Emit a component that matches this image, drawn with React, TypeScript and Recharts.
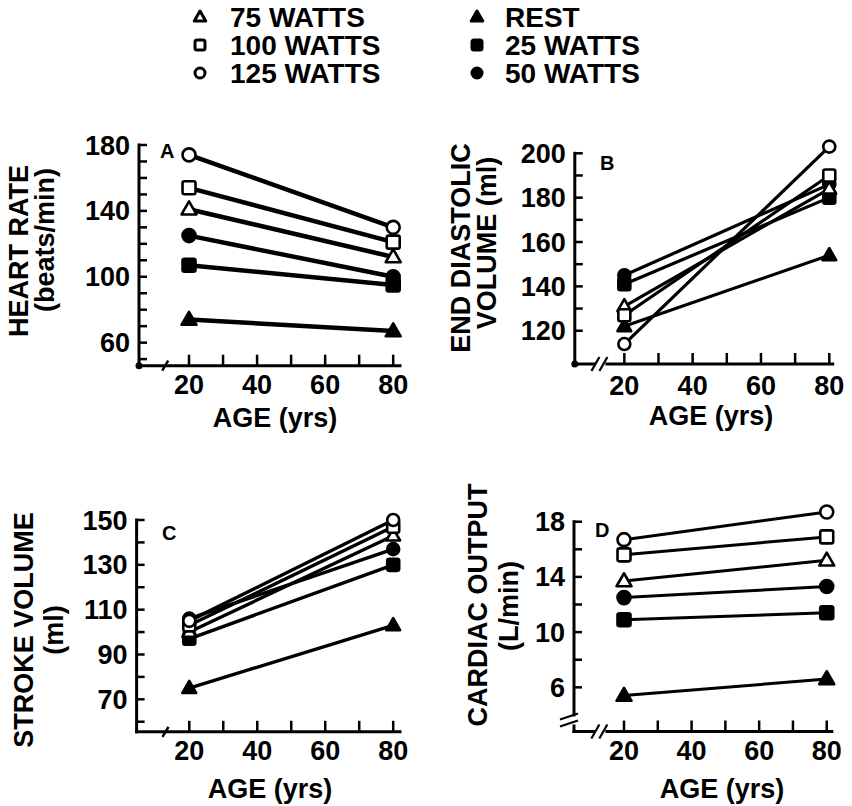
import React from "react";
import { LineChart, Line, XAxis, YAxis, ReferenceDot, ReferenceLine } from "recharts";

// ages at which every group was measured
const AGES = [20, 80];

const SERIES_KEYS = ["rest", "w25", "w50", "w75", "w100", "w125"];
const SERIES_NAMES = ["REST", "25 WATTS", "50 WATTS", "75 WATTS", "100 WATTS", "125 WATTS"];

// [value at 20 yrs, value at 80 yrs], one pair per series in SERIES_KEYS order
const heartRate = [[74, 67], [107, 95], [125, 100], [141, 112], [154, 121], [174, 130]];
const endDiastolicVolume = [[122, 154], [141, 180], [145, 186], [131, 184], [127, 190], [114, 203]];
const strokeVolume = [[75, 103], [97, 130], [106, 137], [100, 143], [103, 147], [105, 150]];
const cardiacOutput = [[5.4, 6.6], [10.9, 11.4], [12.5, 13.3], [13.7, 15.2], [15.6, 16.9], [16.7, 18.7]];

const AGE_TICKS = [20, 30, 40, 50, 60, 70, 80];
const AGE_LABELS = [20, 40, 60, 80];
const HR_TICKS = [50, 60, 70, 80, 90, 100, 110, 120, 130, 140, 150, 160, 170, 180];
const HR_LABELS = [60, 100, 140, 180];
const EDV_TICKS = [120, 130, 140, 150, 160, 170, 180, 190, 200];
const EDV_LABELS = [120, 140, 160, 180, 200];
const SV_TICKS = [60, 70, 80, 90, 100, 110, 120, 130, 140, 150];
const SV_LABELS = [70, 90, 110, 130, 150];
const CO_TICKS = [6, 8, 10, 12, 14, 16, 18];
const CO_LABELS = [6, 10, 14, 18];

const FONT = "'Liberation Sans', Arial, Helvetica, sans-serif";
const INK = "#000";

type Shape = "triangle" | "square" | "circle";
const MARKER_SHAPE: Record<string, Shape> = {
  rest: "triangle", w25: "square", w50: "circle",
  w75: "triangle", w100: "square", w125: "circle",
};
const MARKER_FILLED: Record<string, boolean> = {
  rest: true, w25: true, w50: true, w75: false, w100: false, w125: false,
};

function Marker({ cx, cy, shape, filled, size, sw = 2.6 }: { cx: number; cy: number; shape: Shape; filled: boolean; size: number; sw?: number }) {
  const fill = filled ? INK : "#fff";
  if (shape === "circle") {
    return <circle cx={cx} cy={cy} r={size} fill={fill} stroke={INK} strokeWidth={sw} />;
  }
  if (shape === "square") {
    return (
      <rect x={cx - size} y={cy - size} width={size * 2} height={size * 2} rx={2}
        fill={fill} stroke={INK} strokeWidth={sw} />
    );
  }
  const pts = `${cx},${cy - size * 1.2} ${cx + size * 1.15},${cy + size * 0.8} ${cx - size * 1.15},${cy + size * 0.8}`;
  return <polygon points={pts} fill={fill} stroke={INK} strokeWidth={sw} strokeLinejoin="round" />;
}

function buildRows(values: number[][]) {
  return AGES.map((age, i) => {
    const row: Record<string, number> = { age };
    SERIES_KEYS.forEach((k, s) => {
      row[k] = values[s][i];
    });
    return row;
  });
}

type TitleLine = { text: string; x: number; y: number };

type PanelProps = {
  values: number[][];
  box: [number, number, number, number]; // left, top, width, height
  plot: [number, number, number, number]; // left, top, right, bottom
  xDomain: [number, number];
  yDomain: [number, number];
  yAxisTop: number; // value where the drawn y axis line stops
  yTicks: number[];
  yLabels: number[];
  letter: string;
  letterPos: [number, number];
  yTitle: TitleLine[];
  xTitle: TitleLine;
  xLabelGap: number;
  lineWidth: number;
  markerSize: number;
  breakStyle: "single" | "double";
  yBreakAt?: number;
  originDot?: boolean;
};

function Panel(p: PanelProps) {
  const [bx, by, bw, bh] = p.box;
  const [pl, pt, pr, pb] = p.plot;
  const rows = buildRows(p.values);

  const xTick = (props: any) => {
    const { x, y, payload } = props;
    const v = payload.value;
    return (
      <g>
        <line x1={x} x2={x} y1={y} y2={y - 11} stroke={INK} strokeWidth={2.5} />
        {AGE_LABELS.includes(v) && (
          <text x={x} y={y + p.xLabelGap} textAnchor="middle" fontFamily={FONT}
            fontWeight="bold" fontSize={27} fill={INK}>{v}</text>
        )}
      </g>
    );
  };

  const yTick = (props: any) => {
    const { x, y, payload } = props;
    const v = payload.value;
    return (
      <g>
        <line x1={x} x2={x + 8} y1={y} y2={y} stroke={INK} strokeWidth={2.5} />
        {p.yLabels.includes(v) && (
          <text x={x - 9} y={y + 9.5} textAnchor="end" fontFamily={FONT}
            fontWeight="bold" fontSize={27} fill={INK}>{v}</text>
        )}
      </g>
    );
  };

  const xTitle = () => (
    <text x={p.xTitle.x - bx} y={p.xTitle.y - by} textAnchor="middle" fontFamily={FONT}
      fontWeight="bold" fontSize={27} fill={INK}>{p.xTitle.text}</text>
  );

  const yTitle = () => (
    <g>
      {p.yTitle.map((t) => (
        <text key={t.text} x={t.x - bx} y={t.y - by} textAnchor="middle" fontFamily={FONT}
          fontWeight="bold" fontSize={27} fill={INK}
          transform={`rotate(-90 ${t.x - bx} ${t.y - by})`}>{t.text}</text>
      ))}
      <text x={p.letterPos[0] - bx} y={p.letterPos[1] - by} fontFamily={FONT}
        fontWeight="bold" fontSize={20} fill={INK}>{p.letter}</text>
    </g>
  );

  const axisBreak = (props: any) => {
    const { cx, cy } = props;
    if (p.breakStyle === "single") {
      return (
        <g>
          <line x1={cx - 3} x2={cx + 3} y1={cy + 5} y2={cy - 5} stroke={INK} strokeWidth={2.5} />
        </g>
      );
    }
    return (
      <g>
        <rect x={cx - 5} y={cy - 4} width={10} height={8} fill="#fff" />
        <line x1={cx - 9} x2={cx - 1} y1={cy + 7} y2={cy - 7} stroke={INK} strokeWidth={2.2} />
        <line x1={cx - 1} x2={cx + 7} y1={cy + 7} y2={cy - 7} stroke={INK} strokeWidth={2.2} />
      </g>
    );
  };

  const yBreak = (props: any) => {
    const { cx, cy } = props;
    return (
      <g>
        <rect x={cx - 3} y={cy - 4} width={6} height={8} fill="#fff" />
        <line x1={cx - 14} x2={cx + 4} y1={cy - 1} y2={cy - 7} stroke={INK} strokeWidth={2.2} />
        <line x1={cx - 14} x2={cx + 4} y1={cy + 6} y2={cy} stroke={INK} strokeWidth={2.2} />
      </g>
    );
  };

  const origin = (props: any) => <circle cx={props.cx} cy={props.cy} r={3.5} fill={INK} />;

  const axisLine = { stroke: INK, strokeWidth: 3, strokeLinecap: "square" as const };

  return (
    <div style={{ position: "absolute", left: bx, top: by }}>
      <LineChart width={bw} height={bh} data={rows}
        margin={{ top: pt - by, right: bx + bw - pr, bottom: 0, left: 0 }}>
        <XAxis dataKey="age" type="number" domain={p.xDomain} ticks={AGE_TICKS} interval={0}
          height={by + bh - pb} tickSize={0} tickMargin={0} tickLine={false}
          tick={xTick} axisLine={axisLine} label={xTitle} />
        <YAxis type="number" domain={p.yDomain} ticks={p.yTicks} interval={0}
          width={pl - bx} tickSize={0} tickMargin={0} tickLine={false}
          tick={yTick} axisLine={false} label={yTitle} />
        {/* y axis line stops at the top tick, below the headroom kept for high points */}
        <ReferenceLine
          segment={[{ x: p.xDomain[0], y: p.yDomain[0] }, { x: p.xDomain[0], y: p.yAxisTop }]}
          stroke={INK} strokeWidth={3} strokeLinecap="square" ifOverflow="visible" />
        {SERIES_KEYS.map((k, s) => (
          <Line key={k} dataKey={k} name={SERIES_NAMES[s]} stroke={INK} strokeWidth={p.lineWidth}
            isAnimationActive={false} activeDot={false}
            dot={(d: any) => (
              <Marker key={`${k}-${d.index}`} cx={d.cx} cy={d.cy} shape={MARKER_SHAPE[k]}
                filled={MARKER_FILLED[k]} size={p.markerSize} />
            )} />
        ))}
        <ReferenceDot x={13} y={p.yDomain[0]} r={0} ifOverflow="visible" shape={axisBreak} />
        {p.yBreakAt !== undefined && (
          <ReferenceDot x={p.xDomain[0]} y={p.yBreakAt} r={0} ifOverflow="visible" shape={yBreak} />
        )}
        {p.originDot && (
          <ReferenceDot x={p.xDomain[0]} y={p.yDomain[0]} r={0} ifOverflow="visible" shape={origin} />
        )}
      </LineChart>
    </div>
  );
}

function LegendBlock() {
  const columns = [
    { keys: ["w75", "w100", "w125"], markerX: 200, textX: 230 },
    { keys: ["rest", "w25", "w50"], markerX: 477, textX: 505 },
  ];
  const rowY = [17, 45, 73];
  return (
    <svg width={852} height={95} style={{ position: "absolute", left: 0, top: 0 }}>
      {columns.map((c) =>
        c.keys.map((k, r) => (
          <g key={k}>
            <Marker cx={c.markerX} cy={rowY[r]} shape={MARKER_SHAPE[k]} filled={MARKER_FILLED[k]}
              size={5} sw={3} />
            <text x={c.textX} y={rowY[r] + 10} fontFamily={FONT} fontWeight="bold" fontSize={28} fill={INK}>
              {SERIES_NAMES[SERIES_KEYS.indexOf(k)]}
            </text>
          </g>
        ))
      )}
    </svg>
  );
}

export default function App() {
  return (
    <div style={{ position: "absolute", left: 0, top: 0, width: 852, height: 806, background: "#fff" }}>
      <LegendBlock />
      <Panel
        values={heartRate}
        box={[0, 95, 420, 345]}
        plot={[139, 145, 400, 365.7]}
        xDomain={[5.3, 82]}
        yDomain={[46, 180]}
        yAxisTop={180}
        yTicks={HR_TICKS}
        yLabels={HR_LABELS}
        letter="A"
        letterPos={[160, 158]}
        yTitle={[
          { text: "HEART RATE", x: 28, y: 251 },
          { text: "(beats/min)", x: 54, y: 240 },
        ]}
        xTitle={{ text: "AGE (yrs)", x: 275, y: 427 }}
        xLabelGap={28}
        lineWidth={4.5}
        markerSize={6.5}
        breakStyle="single"
        originDot
      />
      <Panel
        values={endDiastolicVolume}
        box={[420, 95, 432, 345]}
        plot={[574.8, 142.2, 832.7, 364]}
        xDomain={[5.5, 81]}
        yDomain={[105, 205]}
        yAxisTop={200}
        yTicks={EDV_TICKS}
        yLabels={EDV_LABELS}
        letter="B"
        letterPos={[600, 170]}
        yTitle={[
          { text: "END DIASTOLIC", x: 470, y: 248 },
          { text: "VOLUME (ml)", x: 496, y: 243 },
        ]}
        xTitle={{ text: "AGE (yrs)", x: 711, y: 425 }}
        xLabelGap={31}
        lineWidth={3.2}
        markerSize={6}
        breakStyle="double"
        originDot
      />
      <Panel
        values={strokeVolume}
        box={[0, 470, 420, 336]}
        plot={[136.6, 520, 400, 731.8]}
        xDomain={[4.5, 82]}
        yDomain={[55.5, 150]}
        yAxisTop={150}
        yTicks={SV_TICKS}
        yLabels={SV_LABELS}
        letter="C"
        letterPos={[162, 540]}
        yTitle={[
          { text: "STROKE VOLUME", x: 33, y: 630 },
          { text: "(ml)", x: 63, y: 630 },
        ]}
        xTitle={{ text: "AGE (yrs)", x: 270, y: 798 }}
        xLabelGap={28}
        lineWidth={3.4}
        markerSize={6}
        breakStyle="single"
      />
      <Panel
        values={cardiacOutput}
        box={[420, 470, 432, 336]}
        plot={[574, 507.9, 831.8, 731.5]}
        xDomain={[5.2, 81.5]}
        yDomain={[2.8, 19]}
        yAxisTop={18}
        yTicks={CO_TICKS}
        yLabels={CO_LABELS}
        letter="D"
        letterPos={[595, 537]}
        yTitle={[
          { text: "CARDIAC OUTPUT", x: 487, y: 605 },
          { text: "(L/min)", x: 518, y: 606 },
        ]}
        xTitle={{ text: "AGE (yrs)", x: 722, y: 798 }}
        xLabelGap={28}
        lineWidth={3}
        markerSize={6.5}
        breakStyle="double"
        yBreakAt={3.6}
      />
    </div>
  );
}
